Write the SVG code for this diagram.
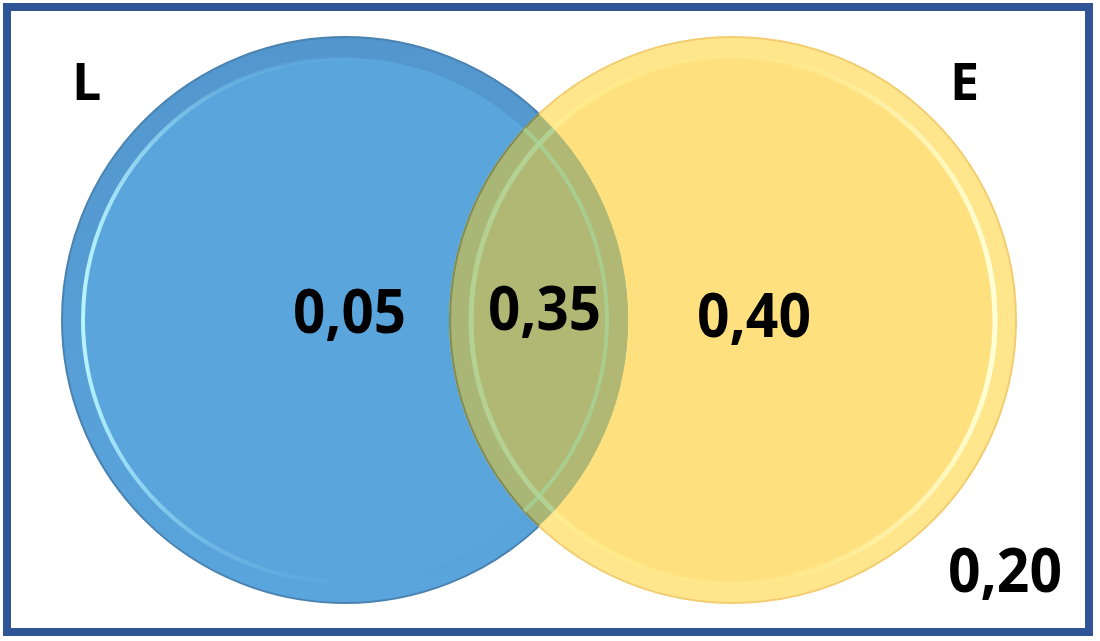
<svg xmlns="http://www.w3.org/2000/svg" width="1100" height="641" viewBox="0 0 1100 641">
<style>
.lbl{font-family:"Open Sans","Liberation Sans",sans-serif;font-weight:700;fill:#000;}
.num{font-size:60px;}
.set{font-size:52px;}
</style>
<defs>
<clipPath id="clipBlue"><circle cx="345" cy="320" r="283"/></clipPath>
<clipPath id="clipYel"><circle cx="733" cy="320" r="283"/></clipPath>
<linearGradient id="blueHi" gradientUnits="userSpaceOnUse" x1="83" y1="0" x2="607" y2="0">
<stop offset="0" stop-color="#B8F4FF" stop-opacity="1"/>
<stop offset="0.25" stop-color="#8ED8F5" stop-opacity="0.35"/>
<stop offset="0.6" stop-color="#5AA3DB" stop-opacity="0"/>
</linearGradient>
<linearGradient id="blueBand" x1="0" y1="0" x2="0" y2="1">
<stop offset="0" stop-color="#5296CD"/>
<stop offset="1" stop-color="#5AA5DD"/>
</linearGradient>
<linearGradient id="yelHi" gradientUnits="userSpaceOnUse" x1="471" y1="0" x2="995" y2="0">
<stop offset="0" stop-color="#FFFFA0" stop-opacity="0.6"/>
<stop offset="0.5" stop-color="#FFF08A" stop-opacity="0"/>
<stop offset="1" stop-color="#FFFFD8" stop-opacity="1"/>
</linearGradient>
</defs>
<rect x="7" y="7" width="1082" height="625" fill="#FFFFFF" stroke="#2F5597" stroke-width="8"/>
<g id="setL">
<circle cx="345" cy="320" r="283" fill="url(#blueBand)" stroke="#4A82B0" stroke-width="2"/>
<circle cx="345" cy="320" r="262" fill="#5AA5DC"/>
<circle cx="345" cy="320" r="262" fill="none" stroke="url(#blueHi)" stroke-width="4"/>
</g>
<g id="setE">
<circle cx="733" cy="320" r="283" fill="#FFE68C" stroke="#F2CD70" stroke-width="2"/>
<circle cx="733" cy="320" r="262" fill="#FFE07E"/>
<circle cx="733" cy="320" r="262" fill="none" stroke="url(#yelHi)" stroke-width="5"/>
</g>
<g id="overlap" clip-path="url(#clipBlue)">
<circle cx="733" cy="320" r="283" fill="#A9B675" stroke="#7F8C55" stroke-width="2"/>
<circle cx="733" cy="320" r="262" fill="#B0B874"/>
<circle cx="733" cy="320" r="262" fill="none" stroke="#B6DDA0" stroke-width="5" stroke-opacity="0.7"/>
<g clip-path="url(#clipYel)">
<circle cx="345" cy="320" r="262" fill="none" stroke="#A6D69A" stroke-width="4" stroke-opacity="0.7"/>
</g>
</g>
<g id="labels">
<text class="lbl set" x="72" y="100">L</text>
<text class="lbl set" x="950" y="100">E</text>
<text class="lbl num" x="293" y="333" textLength="113" lengthAdjust="spacingAndGlyphs">0,05</text>
<text class="lbl num" x="488" y="330" textLength="113" lengthAdjust="spacingAndGlyphs">0,35</text>
<text class="lbl num" x="697" y="337" textLength="114" lengthAdjust="spacingAndGlyphs">0,40</text>
<text class="lbl num" x="948" y="592" textLength="114" lengthAdjust="spacingAndGlyphs">0,20</text>
</g>
</svg>
